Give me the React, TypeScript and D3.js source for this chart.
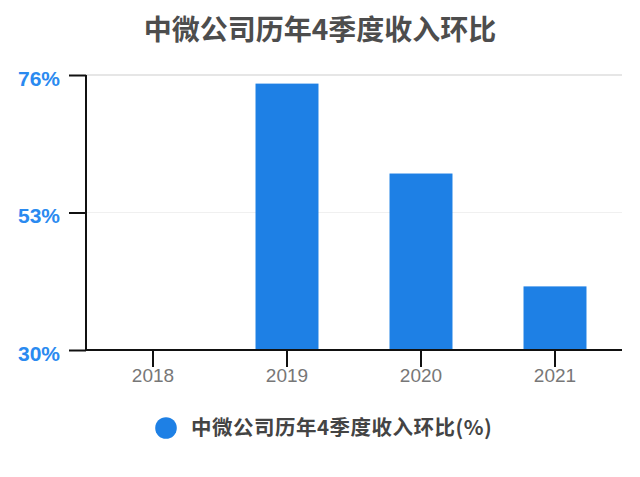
import React, { useEffect, useRef } from 'react';
import * as d3 from 'd3';

const years = ['2018', '2019', '2020', '2021'];
const growth: (number | null)[] = [null, 74.56, 59.52, 40.64];
const yTicks = [30, 53, 76];
const title = '中微公司历年4季度收入环比';
const legendLabel = '中微公司历年4季度收入环比(%)';

const W = 640;
const H = 477;

const App: React.FC = () => {
  const svgRef = useRef<SVGSVGElement>(null);

  useEffect(() => {
    if (!svgRef.current) return;
    const svg = d3.select(svgRef.current);
    svg.selectAll('*').remove();

    const margin = { top: 75, right: 18, bottom: 127, left: 86 };
    const innerW = W - margin.left - margin.right;
    const innerH = H - margin.top - margin.bottom;

    const x = d3.scaleBand<string>().domain(years).range([0, innerW]).paddingInner(0.53).paddingOuter(0.265);
    const y = d3.scaleLinear().domain([30, 76]).range([innerH, 0]);

    svg.append('rect').attr('width', W).attr('height', H).attr('fill', '#fff');

    // title
    svg
      .append('text')
      .attr('x', W / 2)
      .attr('y', 40)
      .attr('text-anchor', 'middle')
      .attr('font-family', '"Noto Sans CJK SC", sans-serif')
      .attr('font-weight', 'bold')
      .attr('font-size', 28)
      .attr('fill', '#4d4d4d')
      .text(title);

    const g = svg.append('g').attr('transform', `translate(${margin.left},${margin.top})`);

    // gridlines
    g.selectAll('line.grid')
      .data(yTicks.filter(t => t !== 30))
      .enter()
      .append('line')
      .attr('x1', 0)
      .attr('x2', innerW)
      .attr('y1', d => y(d))
      .attr('y2', d => y(d))
      .attr('stroke', (d, i) => (i === yTicks.length - 2 ? '#e6e6e6' : '#f0f0f0'))
      .attr('stroke-width', (d, i) => (i === yTicks.length - 2 ? 2 : 1));

    // bars
    const bars = years.map((yr, i) => ({ yr, v: growth[i] })).filter(d => d.v !== null) as { yr: string; v: number }[];
    g.selectAll('rect.bar')
      .data(bars)
      .enter()
      .append('rect')
      .attr('x', d => x(d.yr)!)
      .attr('width', x.bandwidth())
      .attr('y', d => y(d.v))
      .attr('height', d => innerH - y(d.v))
      .attr('fill', '#1e80e5');

    // y axis
    const yAxis = g.append('g').call(d3.axisLeft(y).tickValues(yTicks).tickSize(17).tickFormat(d => `${d}%`));
    yAxis.select('.domain').attr('stroke', '#111').attr('stroke-width', 2).attr('d', `M0,0V${innerH}`);
    yAxis.selectAll('.tick line').attr('stroke', '#111').attr('stroke-width', 2);
    yAxis
      .selectAll('.tick text')
      .attr('x', -26)
      .attr('dy', '0.48em')
      .attr('font-family', '"Liberation Sans", Arial, sans-serif')
      .attr('font-weight', 'bold')
      .attr('font-size', 21)
      .attr('fill', '#2a8af0');

    // x axis
    const xAxis = g
      .append('g')
      .attr('transform', `translate(0,${innerH})`)
      .call(d3.axisBottom(x).tickSize(17));
    xAxis.select('.domain').attr('stroke', '#111').attr('stroke-width', 2).attr('d', `M0,0H${innerW}`);
    xAxis.selectAll('.tick line').attr('stroke', '#111').attr('stroke-width', 2);
    xAxis
      .selectAll('.tick text')
      .attr('y', 19)
      .attr('dy', '0.71em')
      .attr('font-family', '"Liberation Sans", Arial, sans-serif')
      .attr('font-size', 19)
      .attr('fill', '#777');

    // legend
    const lg = svg.append('g').attr('transform', 'translate(166,428)');
    lg.append('circle').attr('r', 10.8).attr('fill', '#1e80e5');
    lg.append('text')
      .attr('x', 25)
      .attr('y', 7)
      .attr('font-family', '"Noto Sans CJK SC", sans-serif')
      .attr('font-weight', 600)
      .attr('font-size', 20.5)
      .attr('letter-spacing', 0.5)
      .attr('fill', '#444')
      .text(legendLabel);
  }, []);

  return (
    <svg
      ref={svgRef}
      width={W}
      height={H}
      style={{ position: 'absolute', left: 0, top: 0, display: 'block' }}
    />
  );
};

export default App;
